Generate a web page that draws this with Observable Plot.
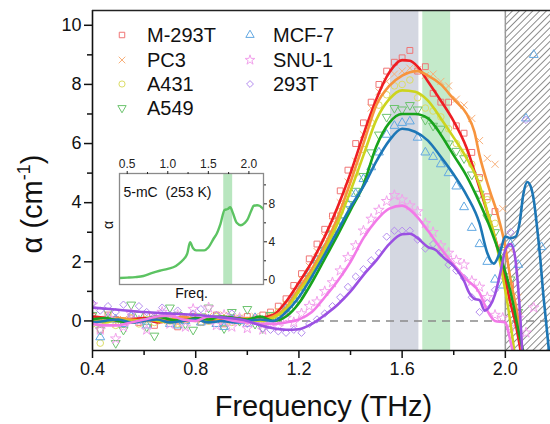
<!DOCTYPE html>
<html><head><meta charset="utf-8">
<script src="https://cdn.jsdelivr.net/npm/d3@7"></script>
<script src="https://cdn.jsdelivr.net/npm/@observablehq/plot@0.6"></script>
<style>
html,body{margin:0;padding:0;background:#fff;}
#wrap{position:relative;width:550px;height:424px;overflow:hidden;font-family:"Liberation Sans",Arial,sans-serif;color:#111;}
#wrap > svg{position:absolute;}
.leg{position:absolute;display:flex;align-items:center;font-size:20px;white-space:nowrap;line-height:20px;}
</style></head><body><div id="wrap"></div>
<script>
// ---------------- DATA ----------------
const seriesNames = ["M-293T","PC3","A431","A549","MCF-7","SNU-1","293T"];

// smooth fitted curves (frequency THz, alpha cm^-1)
const curveF_M293T = [0.40,0.45,0.50,0.55,0.60,0.65,0.70,0.75,0.80,0.85,0.90,0.95,1.00,1.05,1.10,1.15,1.20,1.25,1.30,1.35,1.40,1.45,1.50,1.55,1.60,1.63,1.66,1.70,1.75,1.80,1.85,1.90,1.94,1.97,2.00,2.02,2.04,2.06];
const curveA_M293T = [0.15,0.1,0.0,0.05,0.1,-0.05,0.0,0.05,0.1,0.0,0.05,0.1,0.05,0.1,0.2,0.65,1.3,2.0,2.85,3.85,5.0,6.3,7.5,8.4,8.82,8.8,8.6,8.1,7.45,6.75,5.85,4.5,3.4,2.5,1.4,0.6,-0.1,-1.05];

const curveF_PC3 = [0.40,0.45,0.50,0.55,0.60,0.65,0.70,0.75,0.80,0.85,0.90,0.95,1.00,1.05,1.10,1.15,1.20,1.25,1.30,1.35,1.40,1.45,1.50,1.55,1.60,1.66,1.70,1.75,1.80,1.85,1.88,1.90,1.94,1.97,2.00,2.02,2.045,2.065];
const curveA_PC3 = [0.05,0.0,0.1,0.05,0.0,0.1,0.05,0.15,0.05,0.1,0.0,0.05,0.1,0.05,0.15,0.45,1.1,1.75,2.55,3.5,4.7,6.0,7.3,7.95,8.3,8.45,8.3,8.0,7.5,7.0,6.4,5.6,4.4,3.6,2.5,1.4,0.3,-1.05];

const curveF_A431 = [0.40,0.45,0.50,0.55,0.60,0.65,0.70,0.75,0.80,0.85,0.90,0.95,1.00,1.05,1.10,1.15,1.20,1.25,1.30,1.35,1.40,1.45,1.50,1.55,1.60,1.65,1.70,1.75,1.80,1.85,1.90,1.93,1.96,1.99,2.01,2.035];
const curveA_A431 = [0.0,-0.05,0.05,0.0,0.05,0.0,-0.05,0.05,0.0,0.05,0.1,0.0,0.05,0.0,0.1,0.4,1.0,1.6,2.4,3.3,4.4,5.6,6.8,7.5,7.8,7.75,7.45,6.85,6.2,5.5,4.6,3.7,2.8,1.5,0.5,-1.05];

const curveF_A549 = [0.40,0.45,0.50,0.55,0.60,0.65,0.70,0.75,0.80,0.85,0.90,0.95,1.00,1.05,1.10,1.15,1.20,1.25,1.30,1.35,1.40,1.45,1.50,1.55,1.60,1.65,1.70,1.75,1.80,1.85,1.90,1.93,1.96,2.00,2.03,2.05,2.07];
const curveA_A549 = [0.05,0.1,0.0,-0.05,0.05,0.15,0.05,0.0,0.1,0.05,0.15,0.1,0.05,0.15,0.0,0.15,0.6,1.3,2.1,2.9,3.75,4.6,5.9,6.7,7.0,7.0,6.85,6.3,5.6,4.9,4.0,3.4,2.7,1.65,0.6,-0.3,-1.05];

const curveF_MCF7 = [0.40,0.45,0.50,0.55,0.60,0.65,0.70,0.75,0.80,0.85,0.90,0.95,1.00,1.05,1.10,1.15,1.20,1.25,1.30,1.35,1.40,1.45,1.50,1.55,1.60,1.65,1.70,1.75,1.80,1.85,1.90,1.93,1.955,1.98,2.00,2.02,2.04,2.055,2.07,2.085,2.10,2.11,2.125,2.136,2.146,2.156,2.17];
const curveA_MCF7 = [-0.05,0.0,0.05,-0.05,0.0,0.05,-0.05,0.0,0.05,-0.05,0.0,-0.05,0.0,0.05,0.0,0.3,0.8,1.5,2.25,3.05,3.85,4.55,5.4,6.1,6.5,6.4,6.1,5.55,4.95,4.25,3.3,2.3,1.94,2.35,2.85,2.8,2.85,3.3,4.3,4.7,4.5,4.1,3.0,2.05,1.0,0.13,-1.1];

const curveF_SNU1 = [0.40,0.45,0.50,0.55,0.60,0.65,0.70,0.75,0.80,0.85,0.90,0.95,1.00,1.05,1.10,1.15,1.20,1.25,1.30,1.35,1.40,1.45,1.50,1.55,1.60,1.65,1.70,1.75,1.80,1.85,1.90,1.93,1.96,2.00,2.015,2.03];
const curveA_SNU1 = [-0.1,-0.15,-0.15,-0.05,0.05,0.15,0.18,0.05,0.0,0.15,0.1,0.0,-0.05,-0.1,-0.1,-0.05,0.05,0.3,0.8,1.35,2.0,2.8,3.4,3.8,3.9,3.6,3.05,2.45,1.9,1.4,0.95,0.35,0.0,-0.05,-0.5,-1.1];

const curveF_293T = [0.40,0.50,0.60,0.70,0.80,0.90,1.00,1.05,1.10,1.15,1.20,1.25,1.30,1.35,1.40,1.45,1.50,1.55,1.60,1.63,1.66,1.70,1.73,1.76,1.80,1.84,1.86,1.88,1.90,1.92,1.94,1.96,1.98,2.00,2.02,2.035,2.046,2.058,2.066];
const curveA_293T = [0.45,0.38,0.3,0.25,0.2,0.12,0.0,-0.15,-0.25,-0.3,-0.28,-0.1,0.2,0.55,1.0,1.55,2.05,2.6,2.93,2.95,2.8,2.5,2.4,2.15,1.85,1.35,0.95,0.75,0.7,0.35,0.5,0.9,1.6,2.4,2.6,2.3,1.5,0.1,-1.1];

// measured points (shared frequency grid)
const markerFreq = [0.40,0.43,0.46,0.49,0.52,0.55,0.58,0.61,0.64,0.67,0.70,0.73,0.76,0.79,0.82,0.85,0.88,0.91,0.94,0.97,1.00,1.03,1.06,1.09,1.12,1.15,1.18,1.21,1.24,1.27,1.30,1.33,1.36,1.39,1.42,1.45,1.48,1.51,1.54,1.57,1.60,1.63,1.66,1.69,1.72,1.75,1.78,1.81,1.84,1.87,1.90,1.93,1.96,1.99,2.02,2.05,2.08,2.11,2.14];
const markA_M293T = [0.15,-0.3,0.2,0.05,-0.1,0.1,-0.05,0.2,-0.15,0.05,0.1,-0.2,0.05,0.15,-0.05,0.0,0.2,-0.1,0.1,0.0,0.15,0.05,0.2,0.3,
  0.5,0.75,1.2,1.6,2.1,2.6,3.1,3.55,4.4,5.1,6.0,6.7,7.4,8.0,8.45,8.75,8.9,9.15,8.45,8.6,7.7,7.4,7.4,6.6,6.35,5.7,4.85,4.2,3.7,2.5,1.2,0.3,null,null,null];
const markA_PC3 = [0.1,0.0,0.15,-0.1,0.05,0.1,-0.05,0.05,0.15,0.0,0.1,-0.1,0.05,0.1,0.0,0.15,0.05,0.2,0.0,0.1,0.05,0.15,0.1,0.2,
  0.35,0.6,1.0,1.4,1.85,2.35,2.85,3.4,4.0,4.7,5.4,6.3,7.2,7.75,8.1,8.35,8.45,8.55,8.5,8.3,8.35,8.1,7.95,7.5,7.3,6.85,6.1,5.5,5.3,3.8,2.4,0.8,null,null,null];
const markA_A431 = [-0.1,-0.75,0.1,-0.15,0.0,0.1,-0.1,0.05,-0.05,0.1,0.0,-0.1,0.05,0.1,-0.05,0.0,0.15,0.05,-0.05,0.1,0.0,0.1,0.05,0.15,
  0.3,0.55,0.85,1.2,1.7,2.1,2.6,3.1,3.7,4.3,5.0,5.8,6.7,7.3,7.65,7.95,8.0,8.15,7.55,7.2,7.1,6.9,6.5,6.0,5.7,5.3,4.8,4.1,3.3,2.3,0.9,null,null,null,null];
const markA_A549 = [0.2,-0.3,0.3,-0.75,-0.3,0.55,0.2,-0.2,-0.5,0.1,0.45,0.2,-0.1,-0.3,0.15,0.45,0.1,-0.25,0.3,0.0,0.4,-0.1,-0.25,0.2,
  0.1,0.35,0.55,0.95,1.45,1.95,2.4,2.95,3.4,3.95,4.4,4.9,5.7,6.3,6.9,7.2,7.15,7.3,7.15,6.8,6.6,6.5,6.0,5.75,5.5,4.95,4.3,3.5,3.0,2.4,1.4,0.3,null,null,null];
const markA_MCF7 = [0.0,-0.55,0.1,0.05,-0.1,0.15,0.0,-0.15,0.05,0.1,-0.1,-0.15,0.0,0.1,-0.05,0.05,-0.1,-0.2,0.05,0.0,-0.1,0.1,0.0,0.05,
  0.2,0.4,0.75,1.15,1.6,2.05,2.45,2.95,3.4,3.95,4.3,4.8,5.2,5.7,6.3,6.6,6.7,6.75,6.2,5.7,5.55,5.3,5.0,4.55,3.85,3.15,2.6,2.0,1.4,1.2,2.6,1.9,6.85,9.0,2.5];
const markA_SNU1 = [0.55,-0.3,0.1,-0.6,-0.2,0.25,0.0,-0.3,0.1,0.3,-0.1,0.2,-0.2,0.4,0.1,0.45,-0.15,0.2,-0.2,0.1,-0.25,0.05,-0.3,-0.1,
  -0.2,0.1,-0.05,0.25,0.5,0.65,1.0,1.3,1.7,2.15,2.55,3.05,3.45,3.75,4.05,4.25,4.1,3.9,3.7,3.3,3.0,2.55,2.3,2.05,1.9,1.35,1.15,0.8,0.2,0.1,-0.2,0.1,-0.4,0.45,null];
const markA_293T = [0.6,0.35,0.5,0.3,0.55,0.2,0.5,0.3,0.15,0.45,0.2,0.35,0.1,0.25,0.4,0.1,0.2,0.0,0.25,0.05,-0.1,0.0,-0.25,-0.3,
  -0.35,-0.4,-0.3,-0.4,-0.1,0.05,0.25,0.5,0.8,1.15,1.5,1.75,2.05,2.3,2.85,3.05,3.05,3.05,2.75,2.45,2.6,2.3,1.9,1.7,1.45,0.8,0.3,0.6,1.05,1.5,3.0,null,6.8,null,null];

// shaded ranges (THz)
const grayBand = [1.555, 1.665];
const greenBand = [1.68, 1.788];
const hatchRange = [2.0, 2.175];

// axis ticks / domains
const xDomain = [0.4, 2.175];
const yDomain = [-1, 10.5];
const xMajor = [0.4, 0.8, 1.2, 1.6, 2.0];
const xMinor = [0.6, 1.0, 1.4, 1.8];
const yMajor = [0, 2, 4, 6, 8, 10];
const yMinor = [1, 3, 5, 7, 9];

// inset: 5-mC (253 K)
const insetFreq = [0.41,0.5,0.6,0.7,0.8,0.9,1.0,1.1,1.16,1.21,1.24,1.275,1.31,1.35,1.45,1.5,1.57,1.6,1.65,1.7,1.74,1.77,1.8,1.85,1.9,1.95,1.98,2.03,2.06,2.1,2.13,2.16,2.18];
const insetAlpha = [0.18,0.22,0.28,0.4,0.7,0.95,1.15,1.45,1.85,2.3,2.75,3.95,3.35,3.1,3.1,3.4,4.4,4.8,5.9,7.35,7.45,7.65,7.1,6.0,5.75,6.0,6.3,7.3,7.8,7.85,7.8,7.6,7.45];
const insetBand = [1.69, 1.80];
const insetXDomain = [0.405, 2.18];
const insetYDomain = [-0.5, 11.2];
const insetXMajor = [0.5, 1.0, 1.5, 2.0];
const insetXMinor = [0.75, 1.25, 1.75];
const insetYMajor = [0, 4, 8];
const insetYMinor = [2, 6, 10];

// ---------------- STYLE ----------------
const lineColors = ["#ee1d23","#f7943d","#cdd41e","#18a31c","#1d77b6","#f27ae8","#9b50e2"];
const markColors = ["#f07575","#f8b07a","#dcdd66","#6cc46e","#62a8e2","#f2a2ec","#b48cef"];
const triangleDown = {
  draw(context, size) {
    const s3 = Math.sqrt(3);
    const y = -Math.sqrt(size / (s3 * 3));
    context.moveTo(0, -y * 2);
    context.lineTo(-s3 * y, y);
    context.lineTo(s3 * y, y);
    context.closePath();
  }
};
const symbols = [d3.symbolSquare, d3.symbolTimes, d3.symbolCircle, triangleDown, d3.symbolTriangle, d3.symbolStar, d3.symbolDiamond2];
const FONT = '"Liberation Sans", Arial, Helvetica, sans-serif';

const curveF = [curveF_M293T, curveF_PC3, curveF_A431, curveF_A549, curveF_MCF7, curveF_SNU1, curveF_293T];
const curveA = [curveA_M293T, curveA_PC3, curveA_A431, curveA_A549, curveA_MCF7, curveA_SNU1, curveA_293T];
const markA = [markA_M293T, markA_PC3, markA_A431, markA_A549, markA_MCF7, markA_SNU1, markA_293T];

const hasAxisMarks = typeof Plot.axisX === "function";
const wrap = document.getElementById("wrap");

// ---------------- MAIN CHART ----------------
const dotMarks = seriesNames.map((name, i) => {
  const rows = markerFreq.map((f, k) => ({f, a: markA[i][k]})).filter(d => d.a != null);
  return Plot.dot(rows, {x: "f", y: "a", symbol: symbols[i], r: 3.3, stroke: markColors[i], fill: "none", strokeWidth: 1, clip: true});
});
const lineMarks = seriesNames.map((name, i) => {
  const rows = curveF[i].map((f, k) => ({f, a: curveA[i][k]}));
  return Plot.line(rows, {x: "f", y: "a", stroke: lineColors[i], strokeWidth: 2.6, curve: "monotone-x", clip: true});
});

const mainAxes = hasAxisMarks ? [
  Plot.axisX({ticks: xMajor, tickSize: 8, tickPadding: 4, tickFormat: d => d.toFixed(1), fontSize: 18, label: null, strokeWidth: 1.5}),
  Plot.axisX({ticks: xMinor, tickSize: 5, tickFormat: () => "", label: null, strokeWidth: 1.5}),
  Plot.axisY({ticks: yMajor, tickSize: 8, tickPadding: 3, fontSize: 18, label: null, strokeWidth: 1.5}),
  Plot.axisY({ticks: yMinor, tickSize: 5, tickFormat: () => "", label: null, strokeWidth: 1.5})
] : [];

const main = Plot.plot({
  width: 550, height: 424,
  marginLeft: 92, marginRight: 0, marginTop: 10, marginBottom: 74,
  x: Object.assign({domain: xDomain}, hasAxisMarks ? {} : {ticks: xMajor, tickSize: 8, tickFormat: d => d.toFixed(1), label: null}),
  y: Object.assign({domain: yDomain}, hasAxisMarks ? {} : {ticks: yMajor, tickSize: 8, label: null}),
  style: {fontFamily: FONT, fontSize: "18px", background: "transparent", color: "#111", overflow: "visible"},
  marks: [
    Plot.rect([grayBand], {x1: d => d[0], x2: d => d[1], fill: "#d4d7e1"}),
    Plot.rect([greenBand], {x1: d => d[0], x2: d => d[1], fill: "#c4eaca"}),
    Plot.rect([hatchRange], {x1: d => d[0], x2: d => d[1], fill: "url(#hatchPat)"}),
    Plot.ruleX([hatchRange[0]], {stroke: "#9a9a9a", strokeWidth: 1.5}),
    Plot.ruleY([0], {stroke: "#8a8a8a", strokeWidth: 1.6, strokeDasharray: "8,6"}),
    ...dotMarks,
    ...lineMarks,
    Plot.ruleX([xDomain[0]], {stroke: "#111", strokeWidth: 1.6}),
    Plot.ruleY([yDomain[0]], {stroke: "#111", strokeWidth: 1.6}),
    Plot.ruleY([yDomain[1]], {stroke: "#222", strokeWidth: 1.6}),
    ...mainAxes,
    Plot.text(["Frequency (THz)"], {text: d => d, frameAnchor: "bottom", lineAnchor: "bottom", dy: 65, dx: 2, fontSize: 29, fill: "#111"})
  ]
});
const ns = "http://www.w3.org/2000/svg";
const defs = document.createElementNS(ns, "defs");
defs.innerHTML = '<pattern id="hatchPat" patternUnits="userSpaceOnUse" width="4.8" height="4.8" patternTransform="rotate(45)"><rect width="4.8" height="4.8" fill="#ffffff"/><line x1="0" y1="0" x2="0" y2="4.8" stroke="#1e1e1e" stroke-width="1"/></pattern>';
main.insertBefore(defs, main.firstChild);
main.style.left = "0px"; main.style.top = "0px";
wrap.appendChild(main);

// ---------------- INSET ----------------
const insetRows = insetFreq.map((f, k) => ({f, a: insetAlpha[k]}));
const insetAxes = hasAxisMarks ? [
  Plot.axisX({anchor: "top", ticks: insetXMajor, tickSize: 3, tickPadding: 3, tickFormat: d => d.toFixed(1), fontSize: 12, label: null}),
  Plot.axisX({anchor: "top", ticks: insetXMinor, tickSize: 2, tickFormat: () => "", label: null}),
  Plot.axisY({anchor: "right", ticks: insetYMajor, tickSize: 3, tickPadding: 2, fontSize: 12, label: null}),
  Plot.axisY({anchor: "right", ticks: insetYMinor, tickSize: 2, tickFormat: () => "", label: null})
] : [];
const inset = Plot.plot({
  width: 190, height: 150,
  marginLeft: 19, marginRight: 27, marginTop: 23, marginBottom: 16,
  x: Object.assign({domain: insetXDomain}, hasAxisMarks ? {} : {axis: "top", ticks: insetXMajor, tickSize: 3, tickFormat: d => d.toFixed(1), label: null}),
  y: Object.assign({domain: insetYDomain}, hasAxisMarks ? {} : {axis: "right", ticks: insetYMajor, tickSize: 3, label: null}),
  style: {fontFamily: FONT, fontSize: "12px", background: "transparent", color: "#222", overflow: "visible"},
  marks: [
    Plot.frame({fill: "white", stroke: "none"}),
    Plot.rect([insetBand], {x1: d => d[0], x2: d => d[1], fill: "#b8e6bf"}),
    Plot.line(insetRows, {x: "f", y: "a", stroke: "#5cc362", strokeWidth: 2.4, curve: "monotone-x", clip: true}),
    Plot.frame({stroke: "#8a8a8a", strokeWidth: 1.3}),
    ...insetAxes,
    Plot.text(["5-mC\u00a0 (253\u00a0K)"], {text: d => d, frameAnchor: "top-left", textAnchor: "start", lineAnchor: "middle", dx: 4, dy: 19, fontSize: 14, fill: "#111"}),
    Plot.text(["α"], {text: d => d, frameAnchor: "left", rotate: -90, dx: -11, fontSize: 14, fill: "#111"}),
    Plot.text(["Freq."], {text: d => d, frameAnchor: "bottom", lineAnchor: "middle", dy: 9, fontSize: 14, fill: "#111"})
  ]
});
inset.style.left = "100px"; inset.style.top = "150px";
wrap.appendChild(inset);

// ---------------- LEGEND ----------------
const legSymX = [122, 250];
const legTextX = [147, 273];
const legRowY = [34.5, 60, 84, 108];
seriesNames.forEach((name, i) => {
  const col = i < 4 ? 0 : 1;
  const row = i < 4 ? i : i - 4;
  const sv = document.createElementNS(ns, "svg");
  sv.setAttribute("width", 14); sv.setAttribute("height", 14);
  sv.style.position = "absolute";
  sv.style.left = (legSymX[col] - 7) + "px";
  sv.style.top = (legRowY[row] - 7) + "px";
  const p = document.createElementNS(ns, "path");
  p.setAttribute("d", d3.symbol(symbols[i], 30)());
  p.setAttribute("transform", "translate(7,7)");
  p.setAttribute("fill", "none");
  p.setAttribute("stroke", markColors[i]);
  p.setAttribute("stroke-width", "1");
  sv.appendChild(p);
  wrap.appendChild(sv);
  const t = document.createElement("div");
  t.className = "leg";
  t.textContent = name;
  t.style.left = legTextX[col] + "px";
  t.style.top = (legRowY[row] - 10) + "px";
  wrap.appendChild(t);
});

// ---------------- Y LABEL ----------------
const yl = document.createElement("div");
yl.innerHTML = 'α (cm<span style="font-size:18px;position:relative;top:-12px;">-1</span>)';
yl.style.cssText = "position:absolute;left:34px;top:204px;transform:translate(-50%,-50%) rotate(-90deg);font-size:29px;white-space:nowrap;line-height:30px;";
wrap.appendChild(yl);
</script></body></html>
